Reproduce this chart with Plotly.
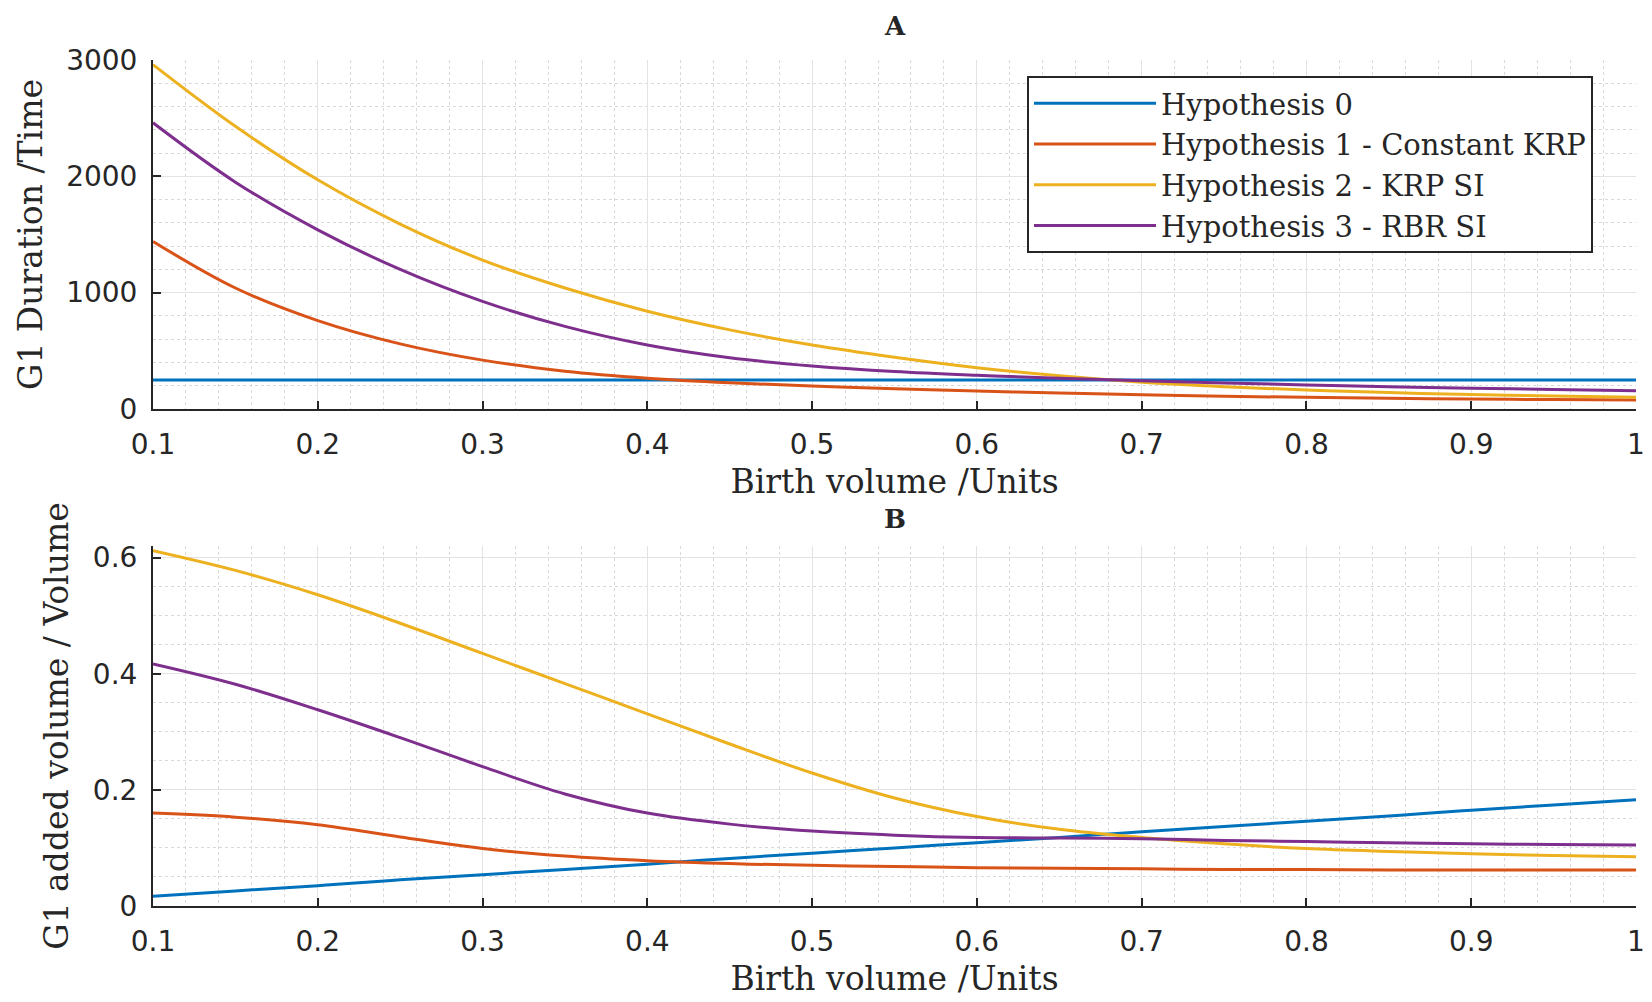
import plotly.graph_objects as go

# ---------------- data ----------------
birth_volume = [0.10, 0.15, 0.20, 0.25, 0.30, 0.35, 0.40, 0.45, 0.50, 0.55,
                0.60, 0.65, 0.70, 0.75, 0.80, 0.85, 0.90, 0.95, 1.00]

series_names = ["Hypothesis 0", "Hypothesis 1 - Constant KRP",
                "Hypothesis 2 - KRP SI", "Hypothesis 3 - RBR SI"]
series_colors = ["#0072BD", "#D95319", "#EDB120", "#7E2F8E"]

# Panel A: G1 duration
g1_duration_h0 = [250, 250, 250, 250, 250, 250, 250, 250, 250, 250,
                  250, 250, 250, 250, 250, 250, 250, 250, 250]
g1_duration_h1 = [1440, 1040, 760, 560, 420, 325, 265, 226, 198, 175,
                  155, 137, 122, 110, 100, 92, 86, 81, 77]
g1_duration_h2 = [2960, 2430, 1970, 1590, 1280, 1040, 840, 680, 550, 445,
                  355, 285, 230, 192, 163, 141, 124, 111, 100]
g1_duration_h3 = [2460, 1950, 1540, 1200, 925, 710, 550, 440, 370, 322,
                  290, 265, 243, 224, 207, 192, 179, 167, 156]

# Panel B: G1 added volume
g1_added_h0 = [0.017, 0.026, 0.035, 0.045, 0.054, 0.063, 0.072, 0.082, 0.091, 0.100,
               0.109, 0.118, 0.128, 0.137, 0.146, 0.155, 0.165, 0.174, 0.183]
g1_added_h1 = [0.160, 0.153, 0.140, 0.119, 0.099, 0.086, 0.078, 0.073, 0.070, 0.068,
               0.066, 0.065, 0.064, 0.063, 0.063, 0.062, 0.062, 0.062, 0.062]
g1_added_h2 = [0.612, 0.578, 0.536, 0.487, 0.435, 0.383, 0.331, 0.279, 0.229, 0.186,
               0.154, 0.132, 0.118, 0.107, 0.099, 0.094, 0.090, 0.087, 0.085]
g1_added_h3 = [0.417, 0.382, 0.338, 0.290, 0.240, 0.193, 0.160, 0.141, 0.129, 0.122,
               0.118, 0.117, 0.116, 0.113, 0.111, 0.109, 0.107, 0.106, 0.105]

x_ticks = [0.1, 0.2, 0.3, 0.4, 0.5, 0.6, 0.7, 0.8, 0.9, 1.0]
x_tick_labels = ["0.1", "0.2", "0.3", "0.4", "0.5", "0.6", "0.7", "0.8", "0.9", "1"]
a_y_ticks = [0, 1000, 2000, 3000]
b_y_ticks = [0, 0.2, 0.4, 0.6]
b_y_tick_labels = ["0", "0.2", "0.4", "0.6"]

panel_a = [g1_duration_h0, g1_duration_h1, g1_duration_h2, g1_duration_h3]
panel_b = [g1_added_h0, g1_added_h1, g1_added_h2, g1_added_h3]

# ---------------- figure ----------------
fig = go.Figure()
for name, color, ys in zip(series_names, series_colors, panel_a):
    fig.add_trace(go.Scatter(x=birth_volume, y=ys, mode="lines", name=name,
                             line=dict(color=color, width=3, shape="spline", smoothing=1.0),
                             xaxis="x", yaxis="y", showlegend=True))
for name, color, ys in zip(series_names, series_colors, panel_b):
    fig.add_trace(go.Scatter(x=birth_volume, y=ys, mode="lines", name=name,
                             line=dict(color=color, width=3, shape="spline", smoothing=1.0),
                             xaxis="x2", yaxis="y2", showlegend=False))

W, H = 1652, 1002
OFF = 8  # page body margin
x_dom = [(153 - OFF) / W, (1636 - OFF) / W]
a_dom = [1 - (409 - OFF) / H, 1 - (60 - OFF) / H]
b_dom = [1 - (906 - OFF) / H, 1 - (546 - OFF) / H]

tick_font = dict(family="DejaVu Sans", size=28, color="#262626")
title_font = dict(family="DejaVu Serif", size=33, color="#262626")

common_x = dict(
    range=[0.1, 1.0], tickvals=x_ticks, ticktext=x_tick_labels,
    showline=True, linecolor="#262626", linewidth=2, mirror=False,
    ticks="inside", ticklen=8, tickwidth=1.5, tickcolor="#262626",
    tickfont=tick_font, ticklabelstandoff=9,
    showgrid=True, gridcolor="#e3e3e3", gridwidth=1,
    minor=dict(dtick=0.02, showgrid=True, gridcolor="#d9d9d9", griddash="dot", gridwidth=1),
    zeroline=False, automargin=False,
)
common_y = dict(
    showline=True, linecolor="#262626", linewidth=2, mirror=False,
    ticks="inside", ticklen=8, tickwidth=1.5, tickcolor="#262626",
    tickfont=tick_font, ticklabelstandoff=8,
    showgrid=True, gridcolor="#e3e3e3", gridwidth=1,
    zeroline=False, automargin=False,
)

fig.update_layout(
    width=W, height=H,
    margin=dict(l=0, r=0, t=0, b=0),
    paper_bgcolor="white", plot_bgcolor="white",
    xaxis=dict(domain=x_dom, anchor="y",
               title=dict(text="Birth volume /Units", font=title_font, standoff=10),
               **common_x),
    yaxis=dict(domain=a_dom, anchor="x", range=[0, 3000], tickvals=a_y_ticks,
               minor=dict(dtick=200, showgrid=True, gridcolor="#d9d9d9", griddash="dot", gridwidth=1),
               title=dict(text="G1 Duration /Time", font=title_font, standoff=14),
               **common_y),
    xaxis2=dict(domain=x_dom, anchor="y2",
                title=dict(text="Birth volume /Units", font=title_font, standoff=10),
                **common_x),
    yaxis2=dict(domain=b_dom, anchor="x2", range=[0, 0.62], tickvals=b_y_ticks,
                ticktext=b_y_tick_labels,
                minor=dict(dtick=0.05, showgrid=True, gridcolor="#d9d9d9", griddash="dot", gridwidth=1),
                title=dict(text="G1 added volume / Volume", font=title_font, standoff=14),
                **common_y),
    legend=dict(x=(1027 - OFF) / W, y=1 - (76 - OFF) / H, xanchor="left", yanchor="top",
                bgcolor="white", bordercolor="#262626", borderwidth=2,
                font=dict(family="DejaVu Serif", size=29, color="#262626"),
                itemwidth=122, tracegroupgap=0),
    annotations=[
        dict(text="<b>A</b>", x=(x_dom[0] + x_dom[1]) / 2, y=1 - (26 - OFF) / H,
             xref="paper", yref="paper", showarrow=False, yanchor="middle",
             font=dict(family="DejaVu Serif", size=26, color="#262626")),
        dict(text="<b>B</b>", x=(x_dom[0] + x_dom[1]) / 2, y=1 - (519 - OFF) / H,
             xref="paper", yref="paper", showarrow=False, yanchor="middle",
             font=dict(family="DejaVu Serif", size=26, color="#262626")),
    ],
)

fig.write_html("out.html")
